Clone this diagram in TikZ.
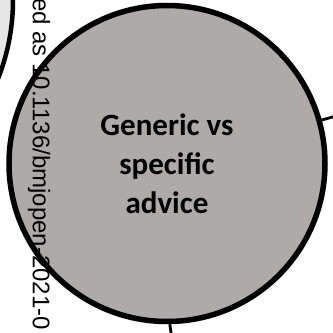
\documentclass[tikz,border=0pt]{standalone}
\usepackage{fontspec}
\newfontfamily\labelfont{Carlito}
\newfontfamily\stampfont{Liberation Sans}
\definecolor{bgtwo}{HTML}{E7E6E6}
\definecolor{bgtwodark}{HTML}{AEAAAA}
\begin{document}
\begin{tikzpicture}[x=1pt,y=1pt,
  topic/.style={circle, draw=black, fill=bgtwodark, line width=5.5pt,
    minimum size=316pt, inner sep=0pt},
  sidetopic/.style={circle, draw=black, fill=bgtwo, line width=4.5pt,
    minimum size=426pt, inner sep=0pt},
  link/.style={draw=black, line width=2.8pt},
  topiclabel/.style={font=\labelfont\bfseries\fontsize{31}{39}\selectfont,
    align=center, inner sep=0pt},
  stamp/.style={font=\stampfont\fontsize{24}{28}\selectfont, rotate=-90,
    anchor=base west, inner sep=0pt}]
  \useasboundingbox (0,0) rectangle (333,333);
  \fill[white] (0,0) rectangle (333,333);

  % neighbouring topic, mostly off the page
  \node[sidetopic] (prev) at (-200,333) {};

  % central topic
  \node[topic] (main) at (167,169.5) {};
  \node[topiclabel] (mainlabel) at (main.center) {Generic vs\\specific\\advice};

  % connectors leaving the page
  \coordinate (rOff) at (345,219.5);
  \coordinate (bOff) at (174,-20);
  \draw[link] (main) -- (rOff);
  \draw[link] (main.-89.5) -- (bOff);

  % vertical DOI stamp
  \node[stamp] (doi) at (33,335) {ed as 10.1136/bmjopen-2021-0};
\end{tikzpicture}
\end{document}
